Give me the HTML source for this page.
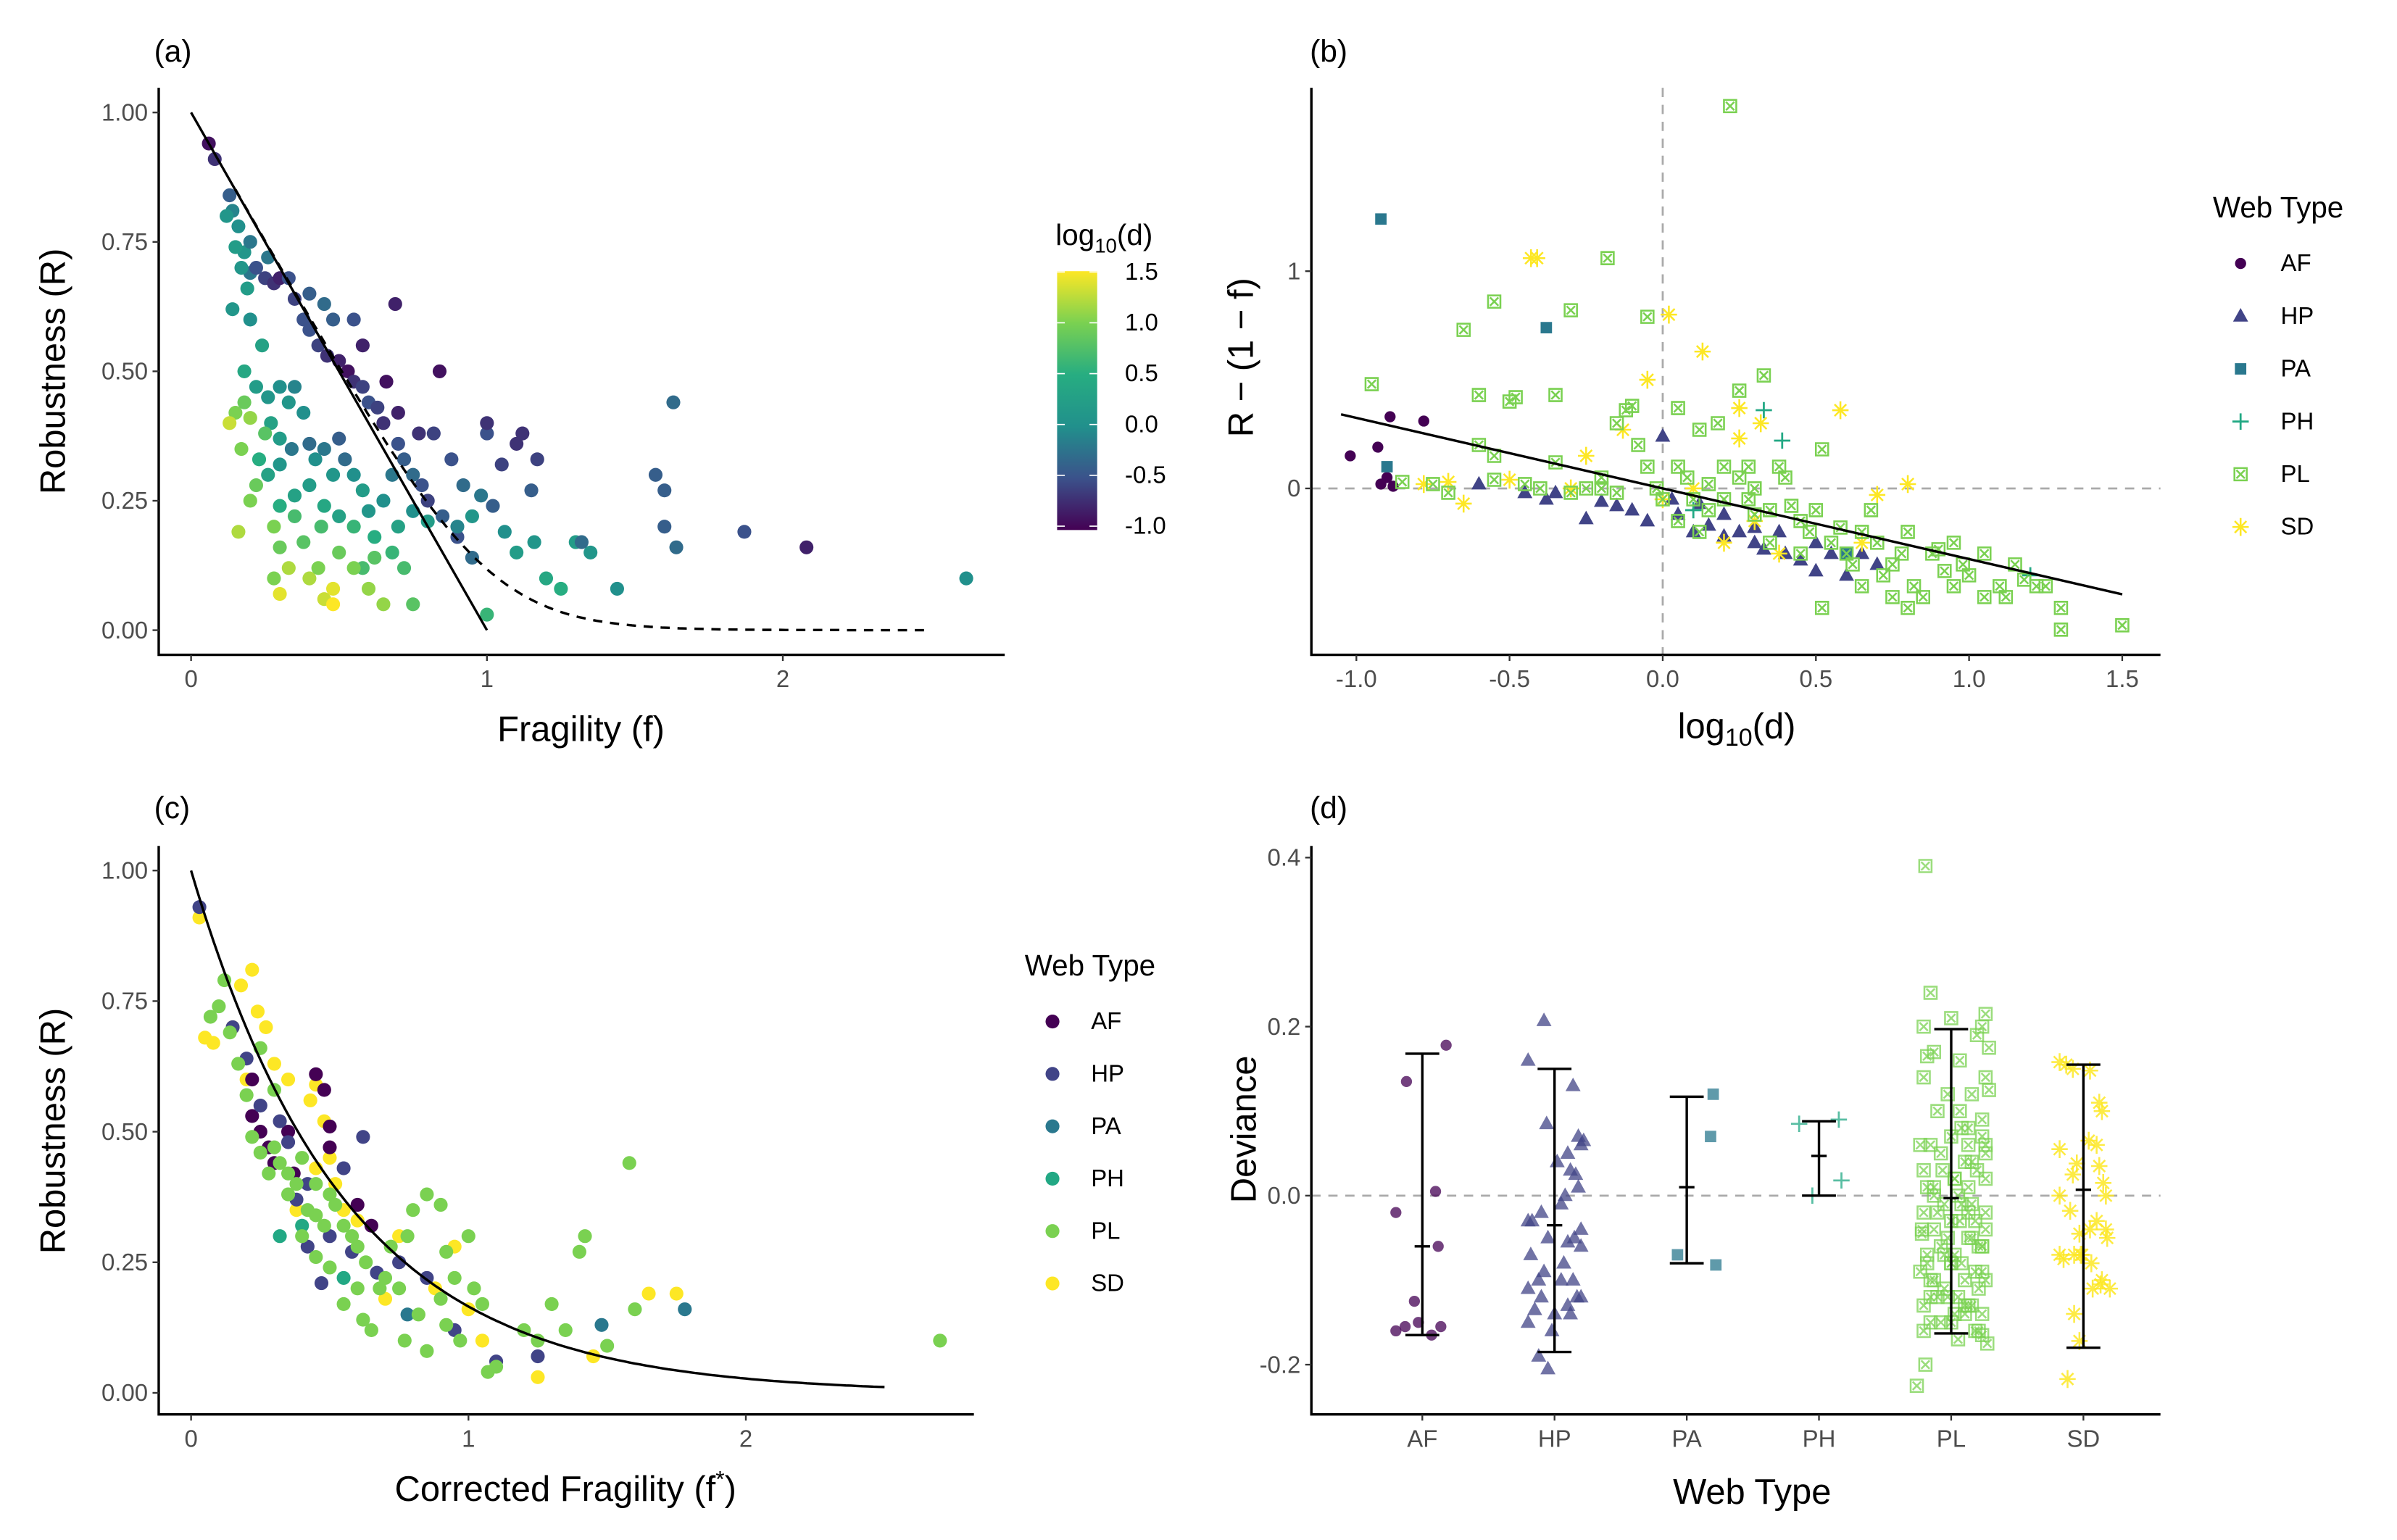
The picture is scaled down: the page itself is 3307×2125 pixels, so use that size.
<!DOCTYPE html>
<html><head><meta charset="utf-8"><style>
html,body{margin:0;padding:0;background:#fff;}
svg{display:block;font-family:"Liberation Sans",sans-serif;}
</style></head><body>
<svg id="fig" width="3307" height="2125" viewBox="0 0 1555.5 999.5" preserveAspectRatio="none" xmlns="http://www.w3.org/2000/svg">
<defs>
<linearGradient id="vir" x1="0" y1="1" x2="0" y2="0">
<stop offset="0" stop-color="#440154"/><stop offset="0.2" stop-color="#3b528b"/><stop offset="0.4" stop-color="#21908c"/><stop offset="0.6" stop-color="#27ad81"/><stop offset="0.8" stop-color="#7ad151"/><stop offset="1" stop-color="#fde725"/>
</linearGradient>
</defs>
<g id="layer"></g>
</svg>
<script>
// ---------- data ----------
const aF=[0.06,0.08,0.13,0.14,0.16,0.18,0.2,0.22,0.25,0.28,0.3,0.35,0.38,0.4,0.43,0.46,0.5,0.53,0.55,0.58,0.6,0.63,0.65,0.7,0.72,0.75,0.78,0.8,0.85,0.9,0.95,1.0,
0.12,0.15,0.17,0.19,0.14,0.2,0.24,0.18,0.22,0.26,0.3,0.33,0.35,0.38,0.27,0.3,0.23,0.26,0.3,0.34,0.4,0.42,0.45,0.5,0.52,0.48,0.55,0.58,0.4,0.35,0.3,0.45,0.5,0.55,0.6,0.65,0.68,0.62,0.7,0.75,0.8,0.68,0.72,0.62,0.58,0.9,0.95,0.98,1.02,1.05,1.1,1.15,1.06,1.1,1.16,1.2,1.25,1.3,1.35,1.0,0.92,0.88,0.82,0.77,0.7,0.66,0.58,0.55,0.48,0.45,0.4,0.33,0.26,0.2,
0.15,0.13,0.18,0.2,0.17,0.22,0.2,0.16,0.25,0.28,0.3,0.33,0.3,0.4,0.45,0.43,0.48,0.48,0.5,0.55,0.6,0.65,0.75,0.28,0.38,0.44,0.35,
0.69,0.84,1.32,1.44,1.57,1.6,1.63,1.6,1.64,1.87,2.08,2.62,1.0,1.12,1.17];
const aR=[0.94,0.91,0.84,0.81,0.78,0.73,0.69,0.7,0.68,0.67,0.68,0.64,0.6,0.58,0.55,0.53,0.52,0.5,0.48,0.47,0.44,0.43,0.4,0.36,0.33,0.3,0.28,0.25,0.22,0.18,0.14,0.03,
0.8,0.74,0.7,0.66,0.62,0.6,0.55,0.5,0.47,0.45,0.47,0.44,0.47,0.42,0.4,0.37,0.33,0.3,0.32,0.35,0.36,0.33,0.35,0.37,0.33,0.3,0.3,0.27,0.28,0.26,0.24,0.24,0.22,0.2,0.23,0.25,0.3,0.18,0.2,0.23,0.21,0.15,0.12,0.14,0.12,0.2,0.22,0.26,0.24,0.32,0.36,0.27,0.19,0.15,0.17,0.1,0.08,0.17,0.15,0.38,0.28,0.33,0.38,0.38,0.42,0.48,0.55,0.6,0.6,0.63,0.65,0.68,0.72,0.75,
0.42,0.4,0.44,0.41,0.35,0.28,0.25,0.19,0.38,0.2,0.16,0.12,0.07,0.1,0.06,0.12,0.08,0.05,0.15,0.12,0.08,0.05,0.05,0.1,0.17,0.2,0.22,
0.63,0.5,0.17,0.08,0.3,0.27,0.44,0.2,0.16,0.19,0.16,0.1,0.4,0.38,0.33];
const aLD=[-0.9,-0.7,-0.4,-0.1,0,0.1,-0.2,-0.5,-0.6,-0.7,-0.8,-0.6,-0.5,-0.5,-0.6,-0.7,-0.8,-0.9,-0.7,-0.6,-0.5,-0.6,-0.7,-0.5,-0.4,-0.3,-0.5,-0.6,-0.4,-0.5,-0.3,0.6,
0.1,0.2,0.1,0.2,0.1,0.0,0.3,0.4,0.2,0.1,0.0,0.1,-0.1,0.0,0.3,0.2,0.5,0.3,0.1,-0.2,-0.3,0.0,-0.2,-0.4,-0.3,0.1,0.0,0.2,0.2,0.3,0.5,0.4,0.3,0.6,0.1,0.0,-0.2,0.5,0.3,0.0,0.2,0.6,0.7,0.8,0.7,-0.1,0.1,-0.2,-0.4,-0.6,-0.7,-0.4,0.0,0.2,0.1,0.4,0.5,0.2,0.1,-0.5,-0.3,-0.5,-0.6,-0.7,-0.8,-0.9,-0.8,-0.5,-0.4,-0.3,-0.4,-0.5,-0.2,-0.2,
1.0,1.3,0.9,1.1,1.0,0.9,1.0,1.2,0.8,1.0,0.9,1.2,1.4,1.2,1.3,1.0,1.4,1.5,0.9,1.0,1.1,1.1,0.8,1.0,0.8,0.7,0.7,
-0.8,-0.9,-0.3,0.0,-0.4,-0.4,-0.3,-0.4,-0.3,-0.5,-0.8,0.0,-0.7,-0.7,-0.6];

const bX=[-1.02,-0.93,-0.9,-0.88,-0.92,-0.78,-0.89,
-0.6,-0.45,-0.38,-0.2,-0.1,-0.05,0.0,-0.25,-0.35,0.05,0.1,0.15,0.2,0.25,0.3,0.33,0.38,0.45,0.5,0.55,0.6,0.65,0.7,0.2,0.3,0.03,-0.15,0.4,0.5,0.12,
-0.92,-0.38,-0.9,0.6,
0.33,0.39,0.1,1.2,
-0.43,-0.41,0.13,0.02,-0.05,0.25,0.32,0.58,0.25,-0.13,-0.25,-0.65,-0.7,-0.5,0.8,0.2,0.7,0.38,0.65,-0.3,0.1,0.3,0.0,-0.78,
-0.95,-0.75,-0.7,-0.6,-0.55,-0.55,-0.5,-0.48,-0.4,-0.35,-0.3,-0.3,-0.25,-0.2,-0.18,-0.15,-0.12,-0.1,-0.08,-0.05,-0.05,-0.02,0.05,0.05,0.08,0.1,0.12,0.15,0.18,0.22,0.25,0.25,0.28,0.3,0.33,0.35,0.38,0.4,0.42,0.45,0.48,0.5,0.52,0.55,0.58,0.6,0.62,0.65,0.68,0.7,0.72,0.75,0.78,0.8,0.82,0.85,0.88,0.9,0.92,0.95,0.98,1.0,1.05,1.1,1.12,1.15,1.18,1.22,1.25,1.3,1.3,1.5,0.52,0.8,-0.45,-0.6,-0.65,-0.85,-0.2,-0.15,0.0,0.15,0.2,0.3,0.35,0.45,-0.35,-0.55,0.05,0.12,0.65,0.75,0.95,1.05,0.28,0.2];
const bY=[0.15,0.19,0.05,0.01,0.02,0.31,0.33,
0.02,-0.02,-0.05,-0.06,-0.1,-0.15,0.24,-0.14,-0.02,-0.12,-0.2,-0.17,-0.22,-0.2,-0.25,-0.28,-0.2,-0.33,-0.38,-0.3,-0.4,-0.3,-0.35,-0.12,-0.18,-0.05,-0.08,-0.3,-0.25,-0.07,
1.24,0.74,0.1,-0.3,
0.36,0.22,-0.1,-0.4,
1.06,1.06,0.63,0.8,0.5,0.37,0.3,0.36,0.23,0.27,0.15,-0.07,0.03,0.04,0.02,-0.25,-0.03,-0.3,-0.25,0.0,0.0,-0.15,-0.05,0.02,
0.48,0.02,-0.02,0.43,0.04,0.86,0.4,0.42,0.0,0.43,0.82,-0.02,0.0,0.0,1.06,0.3,0.36,0.38,0.2,0.1,0.79,0.0,0.37,0.1,0.05,-0.05,0.27,0.02,0.3,1.76,0.45,0.05,-0.05,0.0,0.52,-0.1,0.1,0.05,-0.08,-0.15,-0.2,-0.1,0.18,-0.25,-0.18,-0.3,-0.35,-0.2,-0.1,-0.25,-0.4,-0.35,-0.3,-0.2,-0.45,-0.5,-0.3,-0.28,-0.38,-0.25,-0.35,-0.4,-0.3,-0.45,-0.5,-0.35,-0.42,-0.45,-0.45,-0.55,-0.65,-0.63,-0.55,-0.55,0.02,0.2,0.73,0.03,0.05,-0.02,-0.05,-0.1,-0.05,-0.12,-0.25,-0.3,0.12,0.15,-0.15,-0.2,-0.45,-0.5,-0.45,-0.5,0.1,0.1];
const bT=["AF","AF","AF","AF","AF","AF","AF",
"HP","HP","HP","HP","HP","HP","HP","HP","HP","HP","HP","HP","HP","HP","HP","HP","HP","HP","HP","HP","HP","HP","HP","HP","HP","HP","HP","HP","HP","HP",
"PA","PA","PA","PA","PH","PH","PH","PH",
"SD","SD","SD","SD","SD","SD","SD","SD","SD","SD","SD","SD","SD","SD","SD","SD","SD","SD","SD","SD","SD","SD","SD","SD"];

const cF=[0.03,0.05,0.08,0.15,0.18,0.22,0.24,0.27,0.3,0.35,0.43,0.45,0.48,0.5,0.45,0.52,0.55,0.38,0.6,0.75,0.88,0.95,1.0,1.05,1.25,1.45,1.65,1.75,0.7,0.2,
0.22,0.25,0.28,0.3,0.35,0.45,0.48,0.5,0.65,0.6,0.5,0.37,0.22,
0.03,0.15,0.2,0.25,0.32,0.35,0.38,0.42,0.55,0.62,0.5,0.58,0.67,0.75,0.85,0.95,1.1,1.25,0.42,0.47,
1.48,1.78,0.78,0.32,0.4,0.55,
0.07,0.1,0.12,0.14,0.17,0.2,0.22,0.25,0.28,0.3,0.32,0.35,0.35,0.38,0.4,0.42,0.45,0.48,0.5,0.52,0.55,0.58,0.6,0.45,0.5,0.55,0.6,0.63,0.65,0.7,0.72,0.75,0.78,0.8,0.85,0.9,0.82,0.9,0.92,0.95,1.0,1.02,1.05,0.85,0.92,1.1,1.2,1.25,1.3,1.35,1.4,1.42,1.5,1.58,1.6,2.7,0.3,0.25,0.4,0.62,1.07,0.97,0.68,0.77,0.45];
const cR=[0.91,0.68,0.67,0.7,0.78,0.81,0.73,0.7,0.63,0.6,0.56,0.59,0.52,0.45,0.43,0.4,0.35,0.35,0.33,0.3,0.2,0.28,0.16,0.1,0.03,0.07,0.19,0.19,0.18,0.6,
0.53,0.5,0.47,0.44,0.5,0.61,0.58,0.51,0.32,0.36,0.47,0.42,0.6,
0.93,0.7,0.64,0.55,0.52,0.48,0.37,0.4,0.43,0.49,0.3,0.27,0.23,0.25,0.22,0.12,0.06,0.07,0.28,0.21,
0.13,0.16,0.15,0.3,0.32,0.22,
0.72,0.74,0.79,0.69,0.63,0.57,0.49,0.46,0.42,0.47,0.44,0.42,0.38,0.4,0.45,0.35,0.34,0.32,0.38,0.36,0.32,0.3,0.28,0.26,0.24,0.17,0.2,0.25,0.12,0.22,0.28,0.2,0.3,0.35,0.38,0.36,0.15,0.18,0.27,0.22,0.3,0.2,0.17,0.08,0.13,0.05,0.12,0.1,0.17,0.12,0.27,0.3,0.09,0.44,0.16,0.1,0.58,0.66,0.3,0.14,0.04,0.1,0.2,0.1,0.4];
const cT=[].concat(Array(30).fill("SD"),Array(13).fill("AF"),Array(20).fill("HP"),["PA","PA","PA","PH","PH","PH"],Array(65).fill("PL"));

const dTypes=["AF","HP","PA","PH","PL","SD"];
const dMean=[-0.06,-0.035,0.01,0.047,-0.003,0.007];
const dLo=[-0.165,-0.185,-0.08,0.0,-0.163,-0.18];
const dHi=[0.168,0.15,0.117,0.088,0.197,0.155];
const dCat=[0,0,0,0,0,0,0,0,0,0,0,
1,1,1,1,1,1,1,1,1,1,1,1,1,1,1,1,1,1,1,1,1,1,1,1,1,1,1,1,1,1,1,1,1,1,1,1,1,1,1,1,
2,2,2,2,3,3,3,3];
const dJit=[-0.12,0.18,-0.2,0.1,-0.06,-0.2,-0.13,-0.03,0.07,0.12,0.14,
-0.08,-0.2,0.14,-0.06,0.18,0.2,0.22,0.1,0.12,0.16,0.18,-0.2,-0.17,-0.1,0.05,0.08,0.2,-0.05,-0.18,0.15,-0.12,0.07,0.2,-0.2,-0.1,0.05,0.17,-0.2,-0.02,0.1,0.12,-0.15,0.0,0.14,0.2,-0.12,-0.05,-0.08,0.1,0.02,
-0.07,0.2,0.18,0.22,-0.15,0.15,0.17,-0.05];
const dVal=[0.135,0.178,-0.02,0.005,-0.125,-0.16,-0.155,-0.15,-0.165,-0.06,-0.155,
0.207,0.16,0.13,0.085,0.07,0.06,0.065,0.05,0.03,0.025,0.01,-0.03,-0.03,-0.02,-0.01,0.0,-0.04,-0.05,-0.07,-0.05,-0.1,-0.08,-0.06,-0.11,-0.12,-0.1,-0.12,-0.15,-0.16,-0.13,-0.14,-0.135,-0.14,-0.1,-0.12,-0.19,-0.205,-0.09,-0.055,0.04,
-0.07,0.12,0.07,-0.082,0.085,0.09,0.018,0.0];
const plJit=[-0.15,-0.12,0.0,0.2,0.18,0.15,0.22,-0.16,-0.1,0.05,0.2,0.22,-0.14,-0.02,0.18,-0.16,0.12,0.05,0.1,0.18,0.2,-0.08,0.06,0.2,-0.12,-0.06,0.0,0.08,0.15,-0.18,-0.05,0.02,0.1,0.2,-0.16,-0.1,-0.04,0.04,0.12,0.2,-0.14,-0.08,0.0,0.06,0.14,0.2,-0.16,-0.1,-0.02,0.05,0.12,0.18,-0.17,-0.06,0.02,0.1,0.16,-0.14,-0.04,0.06,0.14,0.2,-0.18,-0.1,0.0,0.08,0.16,-0.12,-0.04,0.04,0.12,-0.16,-0.08,0.02,0.1,0.18,-0.12,0.0,0.08,0.16,-0.16,-0.06,0.04,0.14,-0.12,-0.02,0.08,0.18,-0.14,0.0,0.1,0.18,-0.1,0.02,0.12,-0.17,-0.15,-0.2,0.18,0.21,0.1];
const plVal=[0.39,0.24,0.21,0.215,0.2,0.19,0.175,0.2,0.17,0.16,0.14,0.125,0.165,0.12,0.09,0.14,0.12,0.1,0.08,0.07,0.06,0.1,0.08,0.05,0.06,0.05,0.07,0.04,0.03,0.06,0.03,0.02,0.01,0.02,0.03,0.01,-0.01,0.0,-0.01,-0.02,0.01,-0.02,-0.03,-0.01,-0.03,-0.04,-0.02,-0.04,-0.05,-0.03,-0.05,-0.06,-0.04,-0.06,-0.07,-0.05,-0.06,-0.08,-0.07,-0.08,-0.09,-0.1,-0.09,-0.1,-0.08,-0.1,-0.11,-0.12,-0.11,-0.12,-0.13,-0.13,-0.12,-0.14,-0.13,-0.14,-0.15,-0.15,-0.14,-0.16,-0.16,-0.15,-0.17,-0.16,-0.1,-0.12,-0.13,-0.09,-0.07,-0.08,-0.02,-0.06,0.0,0.02,0.04,-0.045,-0.2,-0.225,-0.165,-0.175,0.06];
const sdJit=[-0.18,-0.13,-0.08,0.05,-0.18,0.12,0.14,0.04,0.1,-0.05,-0.08,0.12,0.15,-0.1,-0.18,0.17,-0.02,0.17,0.06,0.14,0.18,-0.07,-0.01,-0.18,-0.15,0.07,-0.07,0.13,-0.03,-0.12,-0.03,0.05,0.1,0.2];
const sdVal=[0.158,0.155,0.15,0.148,0.055,0.11,0.1,0.065,0.06,0.038,0.025,0.035,0.015,-0.018,0.0,-0.04,-0.07,-0.0,-0.08,-0.1,-0.05,-0.07,-0.07,-0.07,-0.075,-0.11,-0.14,-0.105,-0.172,-0.217,-0.045,-0.04,-0.03,-0.11];

// ---------- helpers ----------
const NS="http://www.w3.org/2000/svg";
const root=document.getElementById('layer');
function el(tag,attrs,parent){const e=document.createElementNS(NS,tag);for(const k in attrs)e.setAttribute(k,attrs[k]);(parent||root).appendChild(e);return e;}
function txt(x,y,s,size,anchor,fill,parent){const t=el('text',{x:x,y:y,'font-size':size,'text-anchor':anchor||'middle',fill:fill||'#000'},parent);t.textContent=s;return t;}
const VIR=[[0,[68,1,84]],[0.2,[59,82,139]],[0.4,[33,144,140]],[0.6,[39,173,129]],[0.8,[122,209,81]],[1,[253,231,37]]];
function viridis(t){t=Math.max(0,Math.min(1,t));for(let i=1;i<VIR.length;i++){if(t<=VIR[i][0]){const a=VIR[i-1],b=VIR[i],u=(t-a[0])/(b[0]-a[0]);return 'rgb('+a[1].map((v,j)=>Math.round(v+(b[1][j]-v)*u)).join(',')+')';}}return 'rgb(253,231,37)';}
const TCOL={AF:"#440154",HP:"#414487",PA:"#2A788E",PH:"#22A884",PL:"#7AD151",SD:"#FDE725"};
function marker(g,type,x,y,op){
  const c=TCOL[type];let m;
  if(type==="AF"){m=el('circle',{cx:x,cy:y,r:3.6,fill:c,'fill-opacity':op},g);}
  else if(type==="HP"){m=el('path',{d:`M${x},${y-5.3} L${x+4.9},${y+3.5} L${x-4.9},${y+3.5}Z`,fill:c,'fill-opacity':op},g);}
  else if(type==="PA"){m=el('rect',{x:x-3.7,y:y-3.7,width:7.4,height:7.4,fill:c,'fill-opacity':op},g);}
  else if(type==="PH"){m=el('path',{d:`M${x-5.3},${y}H${x+5.3}M${x},${y-5.3}V${y+5.3}`,stroke:c,'stroke-width':1.3,'stroke-opacity':op,fill:'none'},g);}
  else if(type==="PL"){m=el('path',{d:`M${x-4},${y-4}h8v8h-8zM${x-2.7},${y-2.7}L${x+2.7},${y+2.7}M${x+2.7},${y-2.7}L${x-2.7},${y+2.7}`,stroke:c,'stroke-width':1.2,'stroke-opacity':op,fill:'none'},g);}
  else {m=el('path',{d:`M${x-5.3},${y}H${x+5.3}M${x},${y-5.8}V${y+5.8}M${x-3.8},${y-3.8}L${x+3.8},${y+3.8}M${x+3.8},${y-3.8}L${x-3.8},${y+3.8}`,stroke:c,'stroke-width':1.2,'stroke-opacity':op,fill:'none'},g);}
  return m;
}
function axes(g,L,T,R,B){
  el('path',{d:`M${L},${T}V${B}H${R}`,stroke:'#000','stroke-width':1.6,fill:'none'},g);
}
function ytick(g,L,y,lab){el('line',{x1:L-4,x2:L,y1:y,y2:y,stroke:'#333','stroke-width':1.1},g);txt(L-7,y+5.3,lab,15.5,'end','#4d4d4d',g);}
function xtick(g,x,B,lab){el('line',{x1:x,x2:x,y1:B,y2:B+4,stroke:'#333','stroke-width':1.1},g);txt(x,B+21,lab,15.5,'middle','#4d4d4d',g);}

// ---------- Panel a ----------
(function(){
  const g=el('g',{});
  
  
  const X=v=>124+v*192, Y=v=>409-v*336;
  txt(100,40,'(a)',20,'start','#000',g);
  for(let i=0;i<aF.length;i++){
    const c=el('circle',{cx:X(aF[i]),cy:Y(aR[i]),r:4.5,fill:viridis((aLD[i]+1)/2.5)},g);
    
    
  }
  const sl=el('line',{x1:X(0),y1:Y(1),x2:X(1),y2:Y(0),stroke:'#000','stroke-width':1.6},g);
  
  
  let d='';for(let f=0.15;f<=2.5001;f+=0.02){const r=0.17*Math.log(1+Math.exp((1-f)/0.17));d+=(d?'L':'M')+X(f).toFixed(1)+','+Y(r).toFixed(1);}
  const dl=el('path',{d:d,stroke:'#000','stroke-width':1.6,fill:'none','stroke-dasharray':'6,5'},g);
  
  
  axes(g,103,57,652,425);
  [[0,'0.00'],[0.25,'0.25'],[0.5,'0.50'],[0.75,'0.75'],[1,'1.00']].forEach(t=>ytick(g,103,Y(t[0]),t[1]));
  [0,1,2].forEach(t=>xtick(g,X(t),425,String(t)));
  const xt=txt(377,481,'Fragility (f)',23,'middle','#000',g);
  
  
  const yt=txt(0,0,'Robustness (R)',23,'middle','#000',g);yt.setAttribute('transform','translate(42,241) rotate(-90)');
  
  
  const cb=el('rect',{x:686,y:176,width:26,height:168,fill:'url(#vir)'},g);
  
  
  const ct=el('text',{x:685,y:159,'font-size':19},g);ct.innerHTML='log<tspan font-size="13" dy="5">10</tspan><tspan dy="-5">(d)</tspan>';
  
  
  [[1.5,'1.5'],[1.0,'1.0'],[0.5,'0.5'],[0,'0.0'],[-0.5,'-0.5'],[-1.0,'-1.0']].forEach(t=>{
    const y=341.5-(t[0]+1)/2.5*165;
    el('line',{x1:686,x2:691,y1:y,y2:y,stroke:'#fff','stroke-width':0.8},g);
    el('line',{x1:707,x2:712,y1:y,y2:y,stroke:'#fff','stroke-width':0.8},g);
    txt(730,y+5,t[1],15.5,'start','#000',g);
  });
})();

// ---------- Panel b ----------
(function(){
  const g=el('g',{});
  
  
  const X=v=>1079+v*198.8, Y=v=>317-v*141;
  txt(850,40,'(b)',20,'start','#000',g);
  el('line',{x1:X(0),x2:X(0),y1:57,y2:425,stroke:'#aaa','stroke-width':1.3,'stroke-dasharray':'6,5'},g);
  el('line',{x1:851,x2:1402,y1:Y(0),y2:Y(0),stroke:'#aaa','stroke-width':1.3,'stroke-dasharray':'6,5'},g);
  for(let i=0;i<bX.length;i++){
    const t=i<bT.length?bT[i]:"PL";
    const m=marker(g,t,X(bX[i]),Y(bY[i]),1);
    
    
  }
  const rl=el('line',{x1:X(-1.05),y1:Y(0.341),x2:X(1.5),y2:Y(-0.4875),stroke:'#000','stroke-width':1.6},g);
  
  
  axes(g,851,57,1402,425);
  [[0,'0'],[1,'1']].forEach(t=>ytick(g,851,Y(t[0]),t[1]));
  [[-1,'-1.0'],[-0.5,'-0.5'],[0,'0.0'],[0.5,'0.5'],[1,'1.0'],[1.5,'1.5']].forEach(t=>xtick(g,X(t[0]),425,t[1]));
  const xt=el('text',{x:1127,y:479,'font-size':23,'text-anchor':'middle'},g);xt.innerHTML='log<tspan font-size="16" dy="5">10</tspan><tspan dy="-5">(d)</tspan>';
  
  
  const yt=txt(0,0,'R − (1 − f)',23,'middle','#000',g);yt.setAttribute('transform','translate(813,232) rotate(-90)');
  
  
  txt(1436,141,'Web Type',19,'start','#000',g);
  ["AF","HP","PA","PH","PL","SD"].forEach((t,i)=>{const y=171+i*34.2;const m=marker(g,t,1454,y,1);
    
    
    txt(1480,y+5,t,15.5,'start','#000',g);});
})();

// ---------- Panel c ----------
(function(){
  const g=el('g',{});
  
  
  const X=v=>124+v*180, Y=v=>904-v*339;
  txt(100,531,'(c)',20,'start','#000',g);
  for(let i=0;i<cF.length;i++){
    const c=el('circle',{cx:X(cF[i]),cy:Y(cR[i]),r:4.5,fill:TCOL[cT[i]]},g);
    
    
  }
  let d='';for(let f=0;f<=2.5001;f+=0.02){d+=(d?'L':'M')+X(f).toFixed(1)+','+Y(Math.exp(-1.8*f)).toFixed(1);}
  const cl=el('path',{d:d,stroke:'#000','stroke-width':1.6,fill:'none'},g);
  
  
  axes(g,103,549,632,918);
  [[0,'0.00'],[0.25,'0.25'],[0.5,'0.50'],[0.75,'0.75'],[1,'1.00']].forEach(t=>ytick(g,103,Y(t[0]),t[1]));
  [0,1,2].forEach(t=>xtick(g,X(t),918,String(t)));
  const xt=el('text',{x:367,y:974,'font-size':23,'text-anchor':'middle'},g);xt.innerHTML='Corrected Fragility (f<tspan font-size="15" dy="-9">*</tspan><tspan dy="9">)</tspan>';
  
  
  const yt=txt(0,0,'Robustness (R)',23,'middle','#000',g);yt.setAttribute('transform','translate(42,734) rotate(-90)');
  
  
  txt(665,633,'Web Type',19,'start','#000',g);
  ["AF","HP","PA","PH","PL","SD"].forEach((t,i)=>{const y=663+i*34;const c=el('circle',{cx:683,cy:y,r:4.5,fill:TCOL[t]},g);
    
    
    txt(708,y+5,t,15.5,'start','#000',g);});
})();

// ---------- Panel d ----------
(function(){
  const g=el('g',{});
  
  
  const X=i=>923+i*85.8, Y=v=>776-v*548.5;
  txt(850,531,'(d)',20,'start','#000',g);
  el('line',{x1:851,x2:1402,y1:Y(0),y2:Y(0),stroke:'#aaa','stroke-width':1.3,'stroke-dasharray':'6,5'},g);
  for(let i=0;i<dVal.length;i++){const t=dTypes[dCat[i]];const m=marker(g,t,X(dCat[i]+dJit[i]),Y(dVal[i]),0.75);
    
    }
  for(let i=0;i<plVal.length;i++){const m=marker(g,"PL",X(4+plJit[i]*1.3),Y(plVal[i]),0.75);
    
    }
  for(let i=0;i<sdVal.length;i++){const m=marker(g,"SD",X(5+sdJit[i]),Y(sdVal[i]),0.85);
    
    }
  dTypes.forEach((t,i)=>{
    const x=X(i);
    const e=el('path',{d:`M${x},${Y(dHi[i])}V${Y(dLo[i])}M${x-11},${Y(dHi[i])}H${x+11}M${x-11},${Y(dLo[i])}H${x+11}M${x-5},${Y(dMean[i])}H${x+5}`,stroke:'#000','stroke-width':1.6,fill:'none'},g);
    
    
  });
  axes(g,851,549,1402,918);
  [[-0.2,'-0.2'],[0,'0.0'],[0.2,'0.2'],[0.4,'0.4']].forEach(t=>ytick(g,851,Y(t[0]),t[1]));
  dTypes.forEach((t,i)=>xtick(g,X(i),918,t));
  const xt=txt(1137,976,'Web Type',23,'middle','#000',g);
  
  
  const yt=txt(0,0,'Deviance',23,'middle','#000',g);yt.setAttribute('transform','translate(815,733) rotate(-90)');
  
  
})();
</script>
</body></html>
